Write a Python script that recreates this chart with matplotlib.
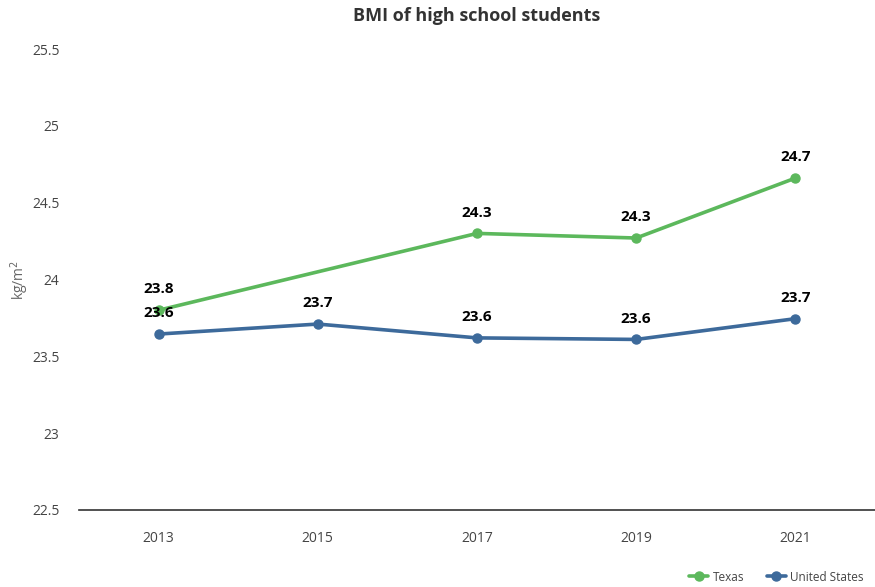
import numpy as np
import matplotlib.pyplot as plt

plt.rcParams['font.family'] = ['Open Sans', 'DejaVu Sans']

years = ["2013", "2015", "2017", "2019", "2021"]
texas = [23.80, None, 24.30, 24.27, 24.66]
united_states = [23.645, 23.71, 23.62, 23.61, 23.745]

green = "#5cb85c"
blue = "#3d6a9b"

fig = plt.figure(figsize=(8.75, 5.87), dpi=100)
ax = fig.add_axes([0.0903, 0.1312, 0.9097, 0.7853])


def draw_series(values, color, label):
    # skip missing years, line just connects the known points
    xs = [i for i, v in enumerate(values) if v is not None]
    ys = [v for v in values if v is not None]
    ax.plot(xs, ys, color=color, lw=2.6, marker='o', ms=6.5, label=label,
            solid_capstyle='round', zorder=3)
    for x, y in zip(xs, ys):
        ax.annotate(f"{y:.1f}", (x, y), xytext=(0, 10), textcoords='offset points',
                    ha='center', va='bottom', fontsize=11, fontweight='bold',
                    color='black', zorder=5)


draw_series(texas, green, "Texas")
draw_series(united_states, blue, "United States")

ax.set_xlim(-0.5, 4.5)
ax.set_ylim(22.5, 25.5)
ax.set_xticks(range(len(years)))
ax.set_xticklabels(years)
yt = np.arange(22.5, 25.51, 0.5)
ax.set_yticks(yt)
ax.set_yticklabels([f"{v:g}" for v in yt])
ax.tick_params(axis='both', length=0, labelsize=10, colors='#444444')
ax.tick_params(axis='x', pad=15)
ax.tick_params(axis='y', pad=14)

for s in ['top', 'right', 'left']:
    ax.spines[s].set_visible(False)
ax.spines['bottom'].set_color('#333333')
ax.spines['bottom'].set_linewidth(1.2)

ax.set_ylabel("kg/m$^2$", color='#666666', fontsize=10, labelpad=1)
ax.set_title("BMI of high school students", fontsize=13, fontweight='bold',
             color='#333333', pad=20)

leg = ax.legend(loc='lower right', bbox_to_anchor=(0.992, -0.17), ncol=2,
                frameon=False, fontsize=8.5, handlelength=1.6, columnspacing=1.9,
                handletextpad=0.4, borderaxespad=0)
for t in leg.get_texts():
    t.set_color('#444444')

fig.savefig("out.png", dpi=100)
